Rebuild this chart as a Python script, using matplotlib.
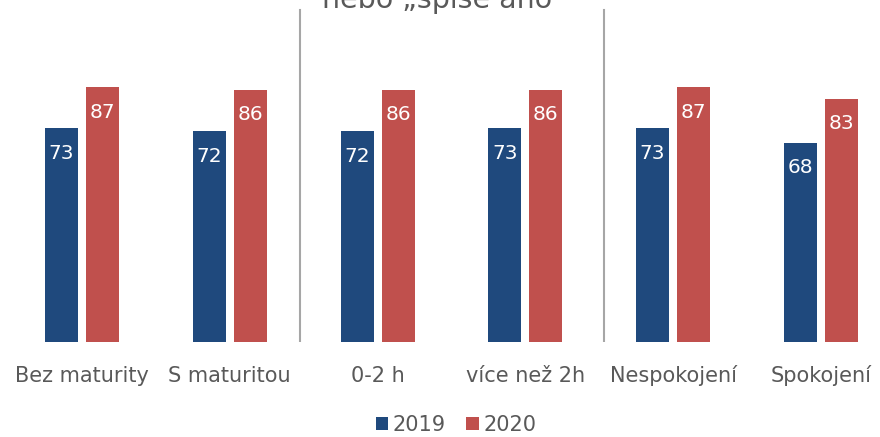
import matplotlib
matplotlib.use("Agg")
import matplotlib.pyplot as plt
import numpy as np

categories = ["Bez maturity", "S maturitou", "0-2 h", "více než 2h", "Nespokojení", "Spokojení"]
values_2019 = [73, 72, 72, 73, 73, 68]
values_2020 = [87, 86, 86, 86, 87, 83]
series_names = ["2019", "2020"]
title_tail = "nebo \u201espíše ano\u201c"

blue = "#1F497D"
red = "#C0504D"
grey = "#595959"

plt.rcParams['font.family'] = ['DejaVu Sans']

fig = plt.figure(figsize=(8.8, 4.37), dpi=100)
ax = fig.add_axes([0, 95 / 437, 1, 342 / 437])

x = np.arange(len(categories))
w = 0.223
off = 0.139
b1 = ax.bar(x - off, values_2019, w, color=blue, label=series_names[0])
b2 = ax.bar(x + off, values_2020, w, color=red, label=series_names[1])

# white value labels inside the bar tops
for bars in (b1, b2):
    for rect in bars:
        h = rect.get_height()
        ax.text(rect.get_x() + rect.get_width() / 2, h - 10.4, f"{h:.0f}",
                ha="center", va="baseline", color="white", fontsize=14.5)

# group separators
for sx in (1.475, 3.53):
    ax.axvline(sx, ymin=0, ymax=332 / 342, color="#A6A6A6", lw=1.5)

ax.set_xlim(-0.555, 5.40)
ax.set_ylim(0, 342 / 2.93)
ax.axis("off")

for xi, lab in zip(x, categories):
    ax.text(xi, -13.65, lab, ha="center", va="baseline", fontsize=15, color=grey)

# tail of the title, cut by the top edge as in the source
fig.text(443 / 880, 1 - 8 / 437, title_tail, ha="center", va="baseline",
         fontsize=20.5, color=grey)

fig.legend(loc="center", bbox_to_anchor=(456 / 880, 1 - 425 / 437), ncol=2,
           frameon=False, fontsize=15, handlelength=0.6, handleheight=0.6,
           handletextpad=0.2, columnspacing=1.0, labelcolor=grey)

fig.savefig("out.png", dpi=100)
